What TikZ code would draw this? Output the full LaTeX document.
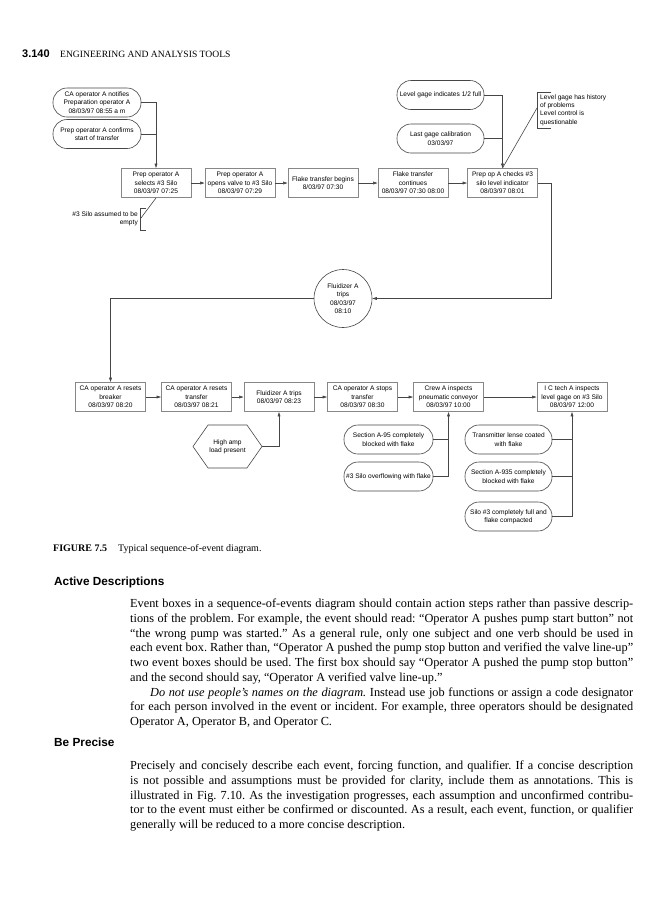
\documentclass[tikz,border=0pt]{standalone}
\usepackage{fontspec}
\setmainfont{Liberation Serif}
\setsansfont{Liberation Sans}
\usepackage{tikz}
\usetikzlibrary{arrows.meta,positioning,shapes.geometric,shapes.symbols}
\definecolor{dline}{RGB}{70,70,70}
\definecolor{dbox}{RGB}{135,135,135}
\newcommand\diagfont{\sffamily\fontsize{6.6}{8.4}\selectfont}
\newcommand\bodyfont{\fontsize{12.3}{14.7}\selectfont\frenchspacing}

\begin{document}
\begin{tikzpicture}[x=1pt, y=-1pt,
    evt/.style={draw=dbox, line width=0.9pt, minimum width=70pt, minimum height=29pt,
                inner sep=1pt, align=center, font=\diagfont},
    cond/.style={draw=dline, line width=0.6pt, rounded corners=14pt, minimum width=88pt,
                 minimum height=29pt, inner sep=0.5pt, align=center, font=\diagfont},
    note/.style={inner sep=0pt, font=\diagfont},
    lnk/.style={dline, line width=0.6pt},
    arr/.style={-{Triangle[length=4.5pt, width=2.8pt]}, dline, line width=0.6pt},
    para/.style={anchor=north west, inner sep=0pt, text width=503pt, align=justify, font=\bodyfont},
    head/.style={anchor=base west, inner sep=0pt, font=\sffamily\bfseries\fontsize{11.8}{14}\selectfont},
  ]
    \useasboundingbox[fill=white] (0,0) rectangle (662,900);

    % running head
    \node[anchor=base west, inner sep=0pt, font=\sffamily\bfseries\fontsize{11}{13}\selectfont] (pgno) at (22,57) {3.140};
    \node[anchor=base west, inner sep=0pt, font=\fontsize{9.6}{12}\selectfont] (run) at (60,57) {ENGINEERING AND ANALYSIS TOOLS};

    % upper chain
    \node[cond] (notify)  at (97,102.5) {CA operator A notifies\\Preparation operator A\\08/03/97 08:55 a m};
    \node[cond] (confirm) at (97,134)   {Prep operator A confirms\\start of transfer};
    \node[evt] (select) at (156,183)   {Prep operator A\\selects \#3 Silo\\08/03/97 07:25};
    \node[evt] (valve)  at (240,183)   {Prep operator A\\opens valve to \#3 Silo\\08/03/97 07:29};
    \node[evt] (begin)  at (323,183)   {Flake transfer begins\\8/03/97 07:30};
    \node[evt] (cont)   at (413,183)   {Flake transfer\\continues\\08/03/97 07:30 08:00};
    \node[evt] (check)  at (502.5,183) {Prep op A checks \#3\\silo level indicator\\08/03/97 08:01};
    \node[cond, minimum width=87pt, inner sep=0pt] (half)  at (440.5,95)  {Level gage indicates 1/2 full};
    \node[cond, minimum width=87pt] (calib) at (440.5,138.5) {Last gage calibration\\03/03/97};

    \node[note, anchor=east, align=right] (empty) at (138,219) {\#3 Silo assumed to be\\empty};
    \node[note, anchor=west, align=left] (hist) at (540,110) {Level gage has history\\of problems\\Level control is\\questionable};
    \draw[lnk] (146,208) -- (140,208) -- (140,230) -- (146,230);
    \draw[lnk] (551,92) -- (537,92) -- (537,128) -- (551,128);
    \coordinate (emptyk) at (141,218);
    \coordinate (histk) at (537,108);

    \draw[arr] (notify.east) -| (select.north);
    \draw[lnk] (confirm.east) -- (confirm.east -| select.north);
    \draw[lnk] (emptyk) -- (select.south);
    \draw[arr] (select) -- (valve);
    \draw[arr] (valve) -- (begin);
    \draw[arr] (begin) -- (cont);
    \draw[arr] (cont) -- (check);
    \draw[arr] (half.east) -| (check.north);
    \draw[lnk] (calib.east) -- (calib.east -| check.north);
    \draw[lnk] (histk) -- (check.north);

    % fluidizer trip
    \node[draw=dline, line width=0.6pt, circle, minimum size=58pt, inner sep=0pt, align=center,
          font=\diagfont] (trip) at (343,298.5) {Fluidizer A\\trips\\08/03/97\\08:10};
    \draw[arr] (check.east) -- ++(13,0) |- (trip.east);

    % lower chain
    \node[evt] (breaker) at (110.5,397) {CA operator A resets\\breaker\\08/03/97 08:20};
    \node[evt] (reset)   at (196.5,397) {CA operator A resets\\transfer\\08/03/97 08:21};
    \node[evt] (trips)   at (279,397)   {Fluidizer A trips\\08/03/97 08:23};
    \node[evt] (stop)    at (362.5,397) {CA operator A stops\\transfer\\08/03/97 08:30};
    \node[evt] (crew)    at (448.5,397) {Crew A inspects\\pneumatic conveyor\\08/03/97 10:00};
    \node[evt] (ictech)  at (572,397)   {I C tech A inspects\\level gage on \#3 Silo\\08/03/97 12:00};
    \draw[arr] (trip.west) -| (breaker.north);
    \draw[arr] (breaker) -- (reset);
    \draw[arr] (reset) -- (trips);
    \draw[arr] (trips) -- (stop);
    \draw[arr] (stop) -- (crew);
    \draw[arr] (crew) -- (ictech);

    \node[draw=dline, line width=0.6pt, signal, signal to=west and east, signal pointer angle=110,
          minimum width=69pt, minimum height=43pt, inner sep=0pt, align=center,
          font=\diagfont] (amp) at (227.5,446.5) {High amp\\load present};
    \draw[arr] (amp.east) -| (trips.south);

    \node[cond, minimum width=89pt] (sec95) at (388.5,439.5) {Section A-95 completely\\blocked with flake};
    \node[cond, minimum width=89pt, inner sep=0pt] (over) at (388.5,476.5) {\#3 Silo overflowing with flake};
    \draw[arr] (over.east) -| (crew.south);
    \draw[lnk] (sec95.east) -- (sec95.east -| crew.south);

    \node[cond, minimum width=87pt] (lense)  at (508.5,439.5) {Transmitter lense coated\\with flake};
    \node[cond, minimum width=87pt] (sec935) at (508.5,476.5) {Section A-935 completely\\blocked with flake};
    \node[cond, minimum width=87pt] (full)   at (508.5,516.5) {Silo \#3 completely full and\\flake compacted};
    \draw[arr] (full.east) -| (ictech.south);
    \draw[lnk] (lense.east) -- (lense.east -| ictech.south);
    \draw[lnk] (sec935.east) -- (sec935.east -| ictech.south);

    % caption and text
    \node[anchor=base west, inner sep=0pt, font=\fontsize{10}{12}\selectfont] (cap) at (53,551)
      {\textbf{FIGURE 7.5}\hspace{11pt}Typical sequence-of-event diagram.};

    \node[head] (h1) at (54,585) {Active Descriptions};
    \node[para] (p1) at (130,599) {Event boxes in a sequence-of-events diagram should contain action steps rather than passive descrip-\linebreak tions of the problem. For example, the event should read: “Operator A pushes pump start button” not\linebreak “the wrong pump was started.” As a general rule, only one subject and one verb should be used in\linebreak each event box. Rather than, “Operator A pushed the pump stop button and verified the valve line-up”\linebreak two event boxes should be used. The first box should say “Operator A pushed the pump stop button”\linebreak and the second should say, “Operator A verified valve line-up.”\par
      \hspace*{20pt}\textit{Do not use people’s names on the diagram.} Instead use job functions or assign a code designator\linebreak for each person involved in the event or incident. For example, three operators should be designated\linebreak Operator A, Operator B, and Operator C.};

    \node[head] (h2) at (54,746) {Be Precise};
    \node[para] (p2) at (130,761) {Precisely and concisely describe each event, forcing function, and qualifier. If a concise description\linebreak is not possible and assumptions must be provided for clarity, include them as annotations. This is\linebreak illustrated in Fig.~7.10. As the investigation progresses, each assumption and unconfirmed contribu-\linebreak tor to the event must either be confirmed or discounted. As a result, each event, function, or qualifier\linebreak generally will be reduced to a more concise description.};
  \end{tikzpicture}
\end{document}
